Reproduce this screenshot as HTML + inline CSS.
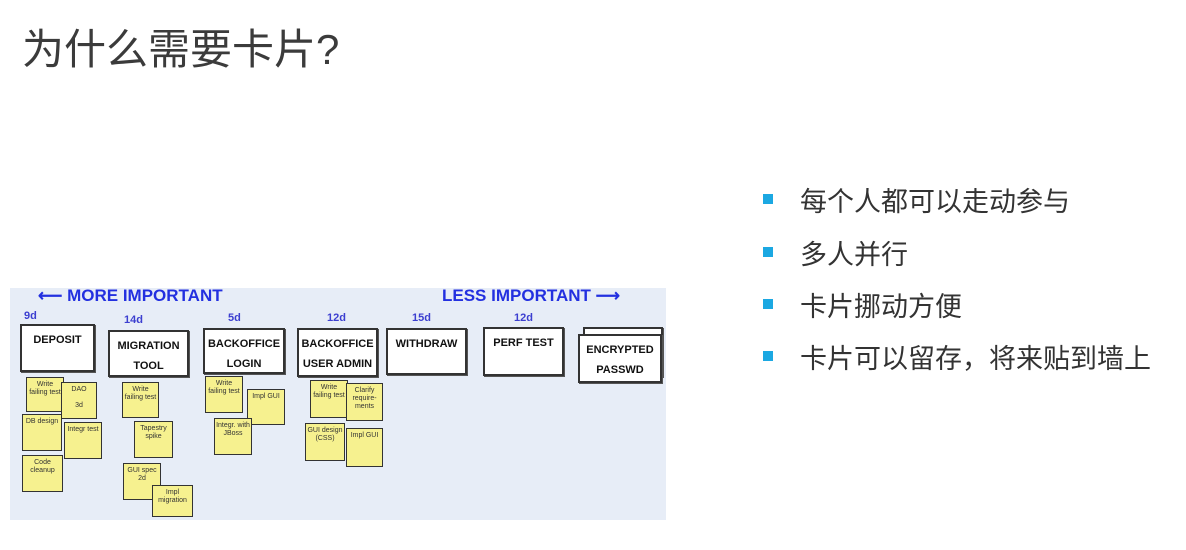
<!DOCTYPE html>
<html><head><meta charset="utf-8"><style>
body{margin:0;width:1186px;height:550px;background:#fff;position:relative;overflow:hidden;font-family:"Liberation Sans","Noto Sans CJK SC",sans-serif}
.t{position:absolute;left:22px;top:16px;font-size:42px;color:#3b3b3b;white-space:nowrap}
.b{position:absolute;left:800px;font-size:27px;color:#333;white-space:nowrap}
.sq{position:absolute;left:763px;width:10px;height:10px;background:#1ba8e2}
.img{position:absolute;left:10px;top:288px;width:656px;height:232px;background:#e7edf7}
.box{position:absolute;background:#fff;border:2px solid #333;box-shadow:1px 1px 0 #555;font-family:"Liberation Sans",sans-serif;font-weight:bold;font-size:11px;text-align:center;color:#111;line-height:20px;box-sizing:border-box;padding-top:4px}
.st{position:absolute;background:#f6f18f;border:1.5px solid #333;box-sizing:border-box;font-size:7px;text-align:center;color:#333;line-height:8px;padding-top:3px}
.d{position:absolute;color:#3c3fd0;font-size:11px;font-weight:bold}
.arr{position:absolute;color:#2330e0;font-weight:bold;font-size:17px;white-space:nowrap;top:286px}
</style></head><body>
<div class="t">为什么需要卡片?</div>
<div class="sq" style="top:194px"></div><div class="b" style="top:180px">每个人都可以走动参与</div>
<div class="sq" style="top:247px"></div><div class="b" style="top:233px">多人并行</div>
<div class="sq" style="top:299px"></div><div class="b" style="top:285px">卡片挪动方便</div>
<div class="sq" style="top:351px"></div><div class="b" style="top:337px">卡片可以留存，将来贴到墙上</div>
<div class="img"></div>
<div class="arr" style="left:38px">⟵ MORE IMPORTANT</div>
<div class="arr" style="left:442px">LESS IMPORTANT ⟶</div>
<div class="d" style="left:24px;top:310px">9d</div>
<div class="d" style="left:124px;top:314px">14d</div>
<div class="d" style="left:228px;top:312px">5d</div>
<div class="d" style="left:327px;top:312px">12d</div>
<div class="d" style="left:412px;top:312px">15d</div>
<div class="d" style="left:514px;top:312px">12d</div>
<div class="box" style="left:20px;top:324px;width:75px;height:48px">DEPOSIT</div>
<div class="box" style="left:108px;top:330px;width:81px;height:47px">MIGRATION<br>TOOL</div>
<div class="box" style="left:203px;top:328px;width:82px;height:46px">BACKOFFICE<br>LOGIN</div>
<div class="box" style="left:297px;top:328px;width:81px;height:49px">BACKOFFICE<br>USER ADMIN</div>
<div class="box" style="left:386px;top:328px;width:81px;height:47px">WITHDRAW</div>
<div class="box" style="left:483px;top:327px;width:81px;height:49px">PERF TEST</div>
<div class="box" style="left:583px;top:327px;width:80px;height:50px"></div>
<div class="box" style="left:578px;top:334px;width:84px;height:49px">ENCRYPTED<br>PASSWD</div>
<div class="st" style="left:26px;top:377px;width:38px;height:35px">Write failing test</div>
<div class="st" style="left:61px;top:382px;width:36px;height:37px">DAO<br><br>3d</div>
<div class="st" style="left:22px;top:414px;width:40px;height:37px">DB design</div>
<div class="st" style="left:64px;top:422px;width:38px;height:37px">Integr test</div>
<div class="st" style="left:22px;top:455px;width:41px;height:37px">Code cleanup</div>
<div class="st" style="left:122px;top:382px;width:37px;height:36px">Write failing test</div>
<div class="st" style="left:134px;top:421px;width:39px;height:37px">Tapestry spike</div>
<div class="st" style="left:123px;top:463px;width:38px;height:37px">GUI spec<br>2d</div>
<div class="st" style="left:152px;top:485px;width:41px;height:32px">Impl migration</div>
<div class="st" style="left:205px;top:376px;width:38px;height:37px">Write failing test</div>
<div class="st" style="left:247px;top:389px;width:38px;height:36px">Impl GUI</div>
<div class="st" style="left:214px;top:418px;width:38px;height:37px">Integr. with JBoss</div>
<div class="st" style="left:310px;top:380px;width:38px;height:38px">Write failing test</div>
<div class="st" style="left:305px;top:423px;width:40px;height:38px">GUI design (CSS)</div>
<div class="st" style="left:346px;top:383px;width:37px;height:38px">Clarify require-ments</div>
<div class="st" style="left:346px;top:428px;width:37px;height:39px">Impl GUI</div>
</body></html>
